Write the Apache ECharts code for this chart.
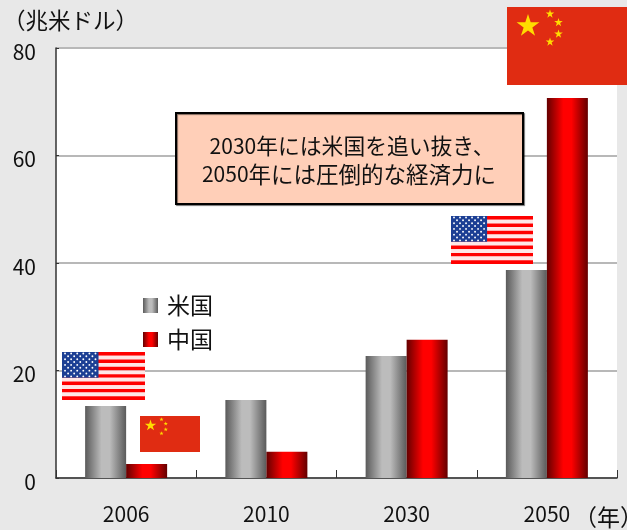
<!DOCTYPE html>
<html lang="ja">
<head>
<meta charset="utf-8">
<title>米国と中国の経済規模</title>
<style>
  html, body { margin: 0; padding: 0; background: #e8e8e8; }
  #chart { width: 627px; height: 530px; }
</style>
<script src="https://cdn.jsdelivr.net/npm/echarts@6/dist/echarts.min.js"></script>
</head>
<body>
<div id="chart"></div>
<script>
// GDP in trillions of US dollars
const years = ['2006', '2010', '2030', '2050'];
const usValues = [13.4, 14.5, 22.7, 38.7];
const chinaValues = [2.6, 4.9, 25.7, 70.7];
const seriesNames = ['米国', '中国'];
const noteYears = ['2030', '2050'];
const notePhrases = ['年には米国を追い抜き、', '年には圧倒的な経済力に'];
const yUnit = '（兆米ドル）';
const xUnit = '（年）';

const FONT = '"Noto Sans CJK JP", "Noto Sans", sans-serif';
const INK = '#111111';

// Cylinder-like shading across the width of a bar
function barShade(edge, mid) {
  return {
    type: 'linear', x: 0, y: 0, x2: 1, y2: 0,
    colorStops: [
      { offset: 0, color: edge },
      { offset: 0.4, color: mid },
      { offset: 0.6, color: mid },
      { offset: 1, color: edge }
    ]
  };
}

function starPoints(cx, cy, r) {
  const pts = [];
  for (let i = 0; i < 10; i++) {
    const rad = i % 2 ? r * 0.382 : r;
    const a = -Math.PI / 2 + i * Math.PI / 5;
    pts.push([cx + rad * Math.cos(a), cy + rad * Math.sin(a)]);
  }
  return pts;
}

function usFlag(x, y, w, h) {
  const out = [];
  const sh = h / 13;
  for (let i = 0; i < 13; i++) {
    out.push({
      type: 'rect', z: 20,
      shape: { x, y: y + i * sh, width: w, height: sh },
      style: { fill: i % 2 ? '#ffe6e6' : '#ff0000' }
    });
  }
  const cw = w * 0.44, ch = sh * 7;
  out.push({ type: 'rect', z: 21, shape: { x, y, width: cw, height: ch }, style: { fill: '#1c3f94' } });
  for (let r = 0; r < 9; r++) {
    const n = r % 2 ? 5 : 6;
    for (let c = 0; c < n; c++) {
      out.push({
        type: 'circle', z: 22,
        shape: {
          cx: x + cw * ((c + (r % 2 ? 1 : 0.5)) / 6),
          cy: y + ch * ((r + 0.5) / 9),
          r: 0.95
        },
        style: { fill: '#ffffff' }
      });
    }
  }
  return out;
}

function chinaFlag(x, y, w, h) {
  const u = w / 120;
  const stars = [[21, 19, 12], [43, 7, 4.5], [51.5, 15.5, 4.5], [51.5, 27, 4.5], [43, 35, 4.5]];
  const out = [{ type: 'rect', z: 20, shape: { x, y, width: w, height: h }, style: { fill: '#e02c12' } }];
  stars.forEach(function (s) {
    out.push({
      type: 'polygon', z: 21,
      shape: { points: starPoints(x + s[0] * u, y + s[1] * u, s[2] * u) },
      style: { fill: '#ffdc00' }
    });
  });
  return out;
}

// One line of the callout: the year is set a little smaller than the kana and kanji
function noteLine(i, x, y, kanaSize) {
  return {
    type: 'text', z: 31, x, y,
    style: {
      text: '{d|' + noteYears[i] + '}{k|' + notePhrases[i] + '}',
      textAlign: 'center', textVerticalAlign: 'middle',
      rich: {
        d: { fontFamily: FONT, fontSize: 21, fill: INK, fontWeight: 400 },
        k: { fontFamily: FONT, fontSize: kanaSize, fill: INK, fontWeight: 400 }
      }
    }
  };
}

const noteBox = [
  {
    type: 'rect', z: 30,
    shape: { x: 176, y: 113, width: 347, height: 91 },
    style: {
      fill: '#ffcfb8', stroke: '#000000', lineWidth: 2,
      shadowColor: 'rgba(0,0,0,0.5)', shadowOffsetX: 1, shadowOffsetY: 1, shadowBlur: 1
    }
  },
  noteLine(0, 352, 146, 21.8),
  noteLine(1, 349, 174, 22.5)
];

const unitLabels = [
  {
    type: 'text', z: 10, x: 3, y: 20,
    style: { text: yUnit, font: '22.5px ' + FONT, fill: INK, textVerticalAlign: 'middle' }
  },
  {
    type: 'text', z: 10, x: 574, y: 517,
    style: { text: xUnit, font: '23px ' + FONT, fill: INK, textVerticalAlign: 'middle' }
  }
];

const chart = echarts.init(document.getElementById('chart'), null, { renderer: 'canvas' });
chart.setOption({
  animation: false,
  backgroundColor: '#e8e8e8',
  textStyle: { fontFamily: FONT },
  grid: {
    left: 56, right: 10, top: 48, bottom: 52,
    show: true, backgroundColor: '#ffffff', borderWidth: 0
  },
  legend: {
    orient: 'vertical', left: 138, top: 289, itemWidth: 15, itemHeight: 15, itemGap: 11,
    icon: 'rect', selectedMode: false,
    data: seriesNames,
    textStyle: { fontFamily: FONT, fontSize: 23, color: INK, padding: [0, 0, 0, 4] }
  },
  xAxis: {
    type: 'category', data: years,
    axisLine: { lineStyle: { color: '#333333', width: 1.5 } },
    axisTick: { show: true, inside: true, length: 8, alignWithLabel: false, lineStyle: { color: '#333333' } },
    axisLabel: { color: INK, fontSize: 21, margin: 26, fontFamily: FONT }
  },
  yAxis: {
    type: 'value', min: 0, max: 80, interval: 20,
    axisLine: { show: true, lineStyle: { color: '#333333', width: 1.5 } },
    axisTick: { show: true, inside: true, length: 3, lineStyle: { color: '#333333' } },
    axisLabel: { color: INK, fontSize: 21, margin: 20, fontFamily: FONT, verticalAlign: 'top', lineHeight: 8 },
    splitLine: { show: true, lineStyle: { color: '#b8b8b8', width: 2 } }
  },
  series: [
    {
      name: seriesNames[0], type: 'bar', data: usValues,
      barWidth: 41, barGap: 0,
      itemStyle: { color: barShade('#5a5a5a', '#bcbcbc') }
    },
    {
      name: seriesNames[1], type: 'bar', data: chinaValues,
      barWidth: 41, barGap: 0,
      itemStyle: { color: barShade('#640000', '#ff0000') }
    }
  ],
  graphic: [].concat(
    usFlag(62, 352, 83, 48),
    usFlag(451, 216, 82, 48),
    chinaFlag(140, 416, 60, 36),
    chinaFlag(507, 7, 120, 78),
    noteBox,
    unitLabels
  )
});
</script>
</body>
</html>
